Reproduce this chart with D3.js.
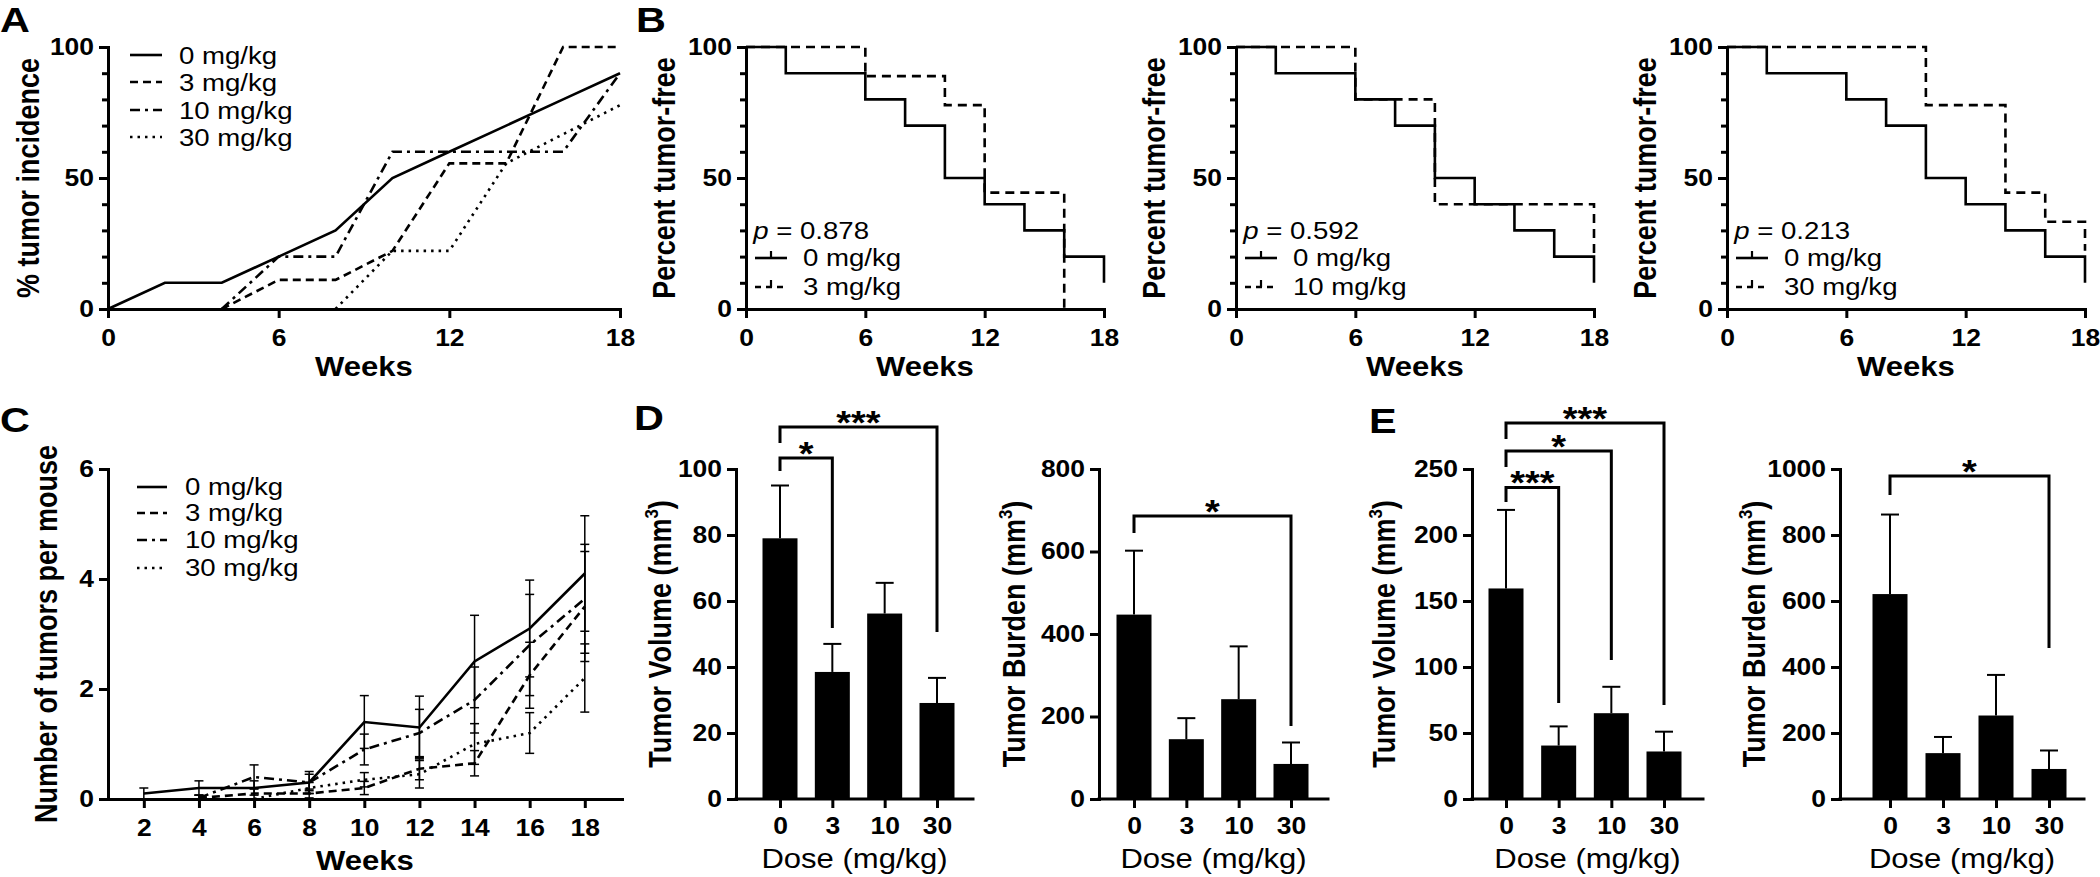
<!DOCTYPE html>
<html><head><meta charset="utf-8">
<script src="https://cdn.jsdelivr.net/npm/d3@7"></script>
<style>
body{margin:0;background:#fff;}
svg{display:block;font-family:"Liberation Sans",Arial,Helvetica,sans-serif;}
</style></head><body>
<svg id="fig" width="2100" height="877"></svg>
<script>
// ===================== DATA =====================
const doseLabels = ["0 mg/kg","3 mg/kg","10 mg/kg","30 mg/kg"];
const doseCats = ["0","3","10","30"];

// A: % tumor incidence
const incWeeks = [0,2,4,6,8,10,12,14,16,18];
const inc0  = [0,10,10,20,30,50,60,70,80,90];
const inc3  = [null,null,0,11.1,11.1,22.2,55.6,55.6,100,100];
const inc10 = [null,null,0,20,20,60,60,60,60,90];
const inc30 = [null,null,null,null,0,22.2,22.2,55.6,66.7,77.8];
const weekTicks = [0,6,12,18];
const pctTicks = [0,50,100];
const pctMinor = [10,20,30,40,60,70,80,90];

// B: Kaplan-Meier (week of step, % tumor-free from that week)
const km0Times = [0,2,6,8,10,12,14,16,18];
const km0Vals  = [100,90,80,70,50,40,30,20,10];
const km3Times = [0,6,10,12,16];
const km3Vals  = [100,88.9,77.8,44.4,0];
const km10Times = [0,6,10,18];
const km10Vals  = [100,80,40,20];
const km30Times = [0,10,14,16,18];
const km30Vals  = [100,77.8,44.4,33.3,22.2];
const pValues = ["0.878","0.592","0.213"];

// C: tumors per mouse (mean, SEM)
const multWeeks = [2,4,6,8,10,12,14,16,18];
const mult0  = [0.1,0.2,0.2,0.3,1.4,1.3,2.5,3.1,4.1];
const sem0   = [0.1,0.13,0.13,0.2,0.48,0.57,0.84,0.88,1.05];
const mult3  = [null,0.02,0.1,0.1,0.2,0.55,0.65,2.25,3.5];
const sem3   = [null,0.05,0.1,0.08,0.12,0.2,0.23,0.6,1.0];
const mult10 = [null,0.02,0.4,0.3,0.9,1.2,1.8,2.8,3.64];
const sem10  = [null,0.05,0.22,0.15,0.28,0.43,0.6,0.92,0.99];
const mult30 = [null,null,0,0.2,0.35,0.45,1.0,1.2,2.2];
const sem30  = [null,null,0,0.1,0.13,0.25,0.37,0.37,0.62];
const multTicks = [0,2,4,6];
const multWeekTicks = [2,4,6,8,10,12,14,16,18];

// D, E: bars (mean, SEM)
const volD = [79,38.5,56.2,29.1],   volDsem = [16,8.5,9.3,7.6];
const burD = [447,145,242,85],      burDsem = [155,51,128,52];
const volE = [159.5,40.5,65,36],    volEsem = [59.5,14.5,20,15];
const burE = [621,139,253,91],      burEsem = [241,49,123,56];
const volDTicks = [0,20,40,60,80,100];
const burDTicks = [0,200,400,600,800];
const volETicks = [0,50,100,150,200,250];
const burETicks = [0,200,400,600,800,1000];
// significance brackets: [from, to, bracket level, left-leg end, right-leg end, label]
const sigD1 = [["0","3",103.3,99.4,51.8,"*"],["0","30",112.7,107.9,50.6,"***"]];
const sigD2 = [["0","30",686,645,177,"*"]];
const sigE1 = [["0","3",236,225,72.7,"***"],["0","10",263.6,251.5,105.3,"*"],["0","30",284.8,272.7,71.2,"***"]];
const sigE2 = [["0","30",979,921,457.6,"*"]];

// ===================== STYLE =====================
const FS_TICK = 23, FS_TITLE = 27, FS_LEG = 24, FS_LETTER = 36, FS_STAR = 33;
const STRETCH = 1.15;
const DASH = {"0 mg/kg":null,"3 mg/kg":"8,5","10 mg/kg":"10,5,3,5","30 mg/kg":"2.5,5"};
const fmt = d3.format("d");

const svg = d3.select("#fig");

function styleAxis(g){
  g.attr("font-family",null).attr("font-size",FS_TICK).attr("font-weight","bold");
  g.select(".domain").attr("stroke","#000").attr("stroke-width",3).attr("stroke-linecap","square");
  g.selectAll(".tick line").attr("stroke","#000").attr("stroke-width",3);
  g.selectAll(".tick text").attr("fill","#000");
  return g;
}
function yAxis(x0, y, ticks, minor){
  if(minor){
    const m = svg.append("g").attr("transform",`translate(${x0},0)`)
      .call(d3.axisLeft(y).tickValues(minor).tickSize(6).tickFormat(""));
    m.select(".domain").remove();
    m.selectAll("line").attr("stroke","#000").attr("stroke-width",3);
  }
  return styleAxis(svg.append("g").attr("transform",`translate(${x0},0)`)
    .call(d3.axisLeft(y).tickValues(ticks).tickFormat(fmt).tickSize(9).tickSizeOuter(0).tickPadding(5)));
}
function xAxis(y0, x, ticks, pad, f){
  const ax = d3.axisBottom(x).tickValues(ticks).tickSize(9).tickSizeOuter(0).tickPadding(pad);
  if(f) ax.tickFormat(f);
  return styleAxis(svg.append("g").attr("transform",`translate(0,${y0})`).call(ax));
}
function yTitle(bx, cy, text, sup){
  const t = svg.append("text").attr("transform",`translate(${bx},${cy}) scale(${STRETCH},1) rotate(-90)`)
    .attr("text-anchor","middle").attr("font-size",FS_TITLE).attr("font-weight","bold").attr("class","rot");
  if(sup){
    t.append("tspan").text(text);
    t.append("tspan").attr("font-size",FS_TITLE*0.62).attr("dy",-FS_TITLE*0.42).text("3");
    t.append("tspan").attr("dy",FS_TITLE*0.42).text(")");
  } else t.text(text);
}
function xTitle(cx, by, text, weight, fs){
  svg.append("text").attr("x",cx).attr("y",by).attr("text-anchor","middle")
    .attr("font-size",fs||FS_TITLE).attr("font-weight",weight||"bold").text(text);
}
function letter(x, y, t){
  svg.append("text").attr("x",x).attr("y",y).attr("font-size",FS_LETTER).attr("font-weight","bold").text(t);
}

// ===================== A =====================
(function(){
  const L=108,R=620,T=47,B=309;
  const x = d3.scaleLinear().domain([0,18]).range([L,R]);
  const y = d3.scaleLinear().domain([0,100]).range([B,T]);
  const series = [inc0,inc3,inc10,inc30];
  const line = d3.line().defined(d=>d[1]!=null).x(d=>x(d[0])).y(d=>y(d[1]));
  series.forEach((s,i)=>{
    svg.append("path").attr("d",line(incWeeks.map((w,j)=>[w,s[j]])))
      .attr("fill","none").attr("stroke","#000").attr("stroke-width",2.6)
      .attr("stroke-dasharray",DASH[doseLabels[i]]);
  });
  yAxis(L,y,pctTicks,pctMinor);
  xAxis(B,x,weekTicks,12);
  yTitle(39,(T+B)/2,"% tumor incidence");
  xTitle((L+R)/2,B+67,"Weeks");
  const rows=[55,82,110,137];
  doseLabels.forEach((d,i)=>{
    svg.append("line").attr("x1",130).attr("x2",162).attr("y1",rows[i]).attr("y2",rows[i])
      .attr("stroke","#000").attr("stroke-width",2.6).attr("stroke-dasharray",DASH[d]);
    svg.append("text").attr("x",179).attr("y",rows[i]+9).attr("font-size",FS_LEG).text(d);
  });
  letter(0,32,"A");
})();

// ===================== B =====================
const kmTreat = [[km3Times,km3Vals,doseLabels[1]],[km10Times,km10Vals,doseLabels[2]],[km30Times,km30Vals,doseLabels[3]]];
const kmLefts = [746,1236,1727];
kmTreat.forEach((tr,k)=>{
  const L=kmLefts[k],R=L+358,T=47,B=309;
  const x = d3.scaleLinear().domain([0,18]).range([L,R]);
  const y = d3.scaleLinear().domain([0,100]).range([B,T]);
  const line = d3.line().curve(d3.curveStepAfter).x(d=>x(d[0])).y(d=>y(d[1]));
  svg.append("path").attr("d",line(km0Times.map((t,j)=>[t,km0Vals[j]])))
    .attr("fill","none").attr("stroke","#000").attr("stroke-width",2.6);
  svg.append("path").attr("d",line(tr[0].map((t,j)=>[t,tr[1][j]])))
    .attr("fill","none").attr("stroke","#000").attr("stroke-width",2.6).attr("stroke-dasharray","9,6");
  yAxis(L,y,pctTicks,pctMinor);
  xAxis(B,x,weekTicks,12);
  yTitle(L-71,(T+B)/2,"Percent tumor-free");
  xTitle((L+R)/2,B+67,"Weeks");
  // legend
  const pt = svg.append("text").attr("x",L+7).attr("y",239).attr("font-size",FS_LEG);
  pt.append("tspan").attr("font-style","italic").text("p");
  pt.append("tspan").text(" = "+pValues[k]);
  [[doseLabels[0],null,258],[tr[2],"6,5",287]].forEach(r=>{
    svg.append("line").attr("x1",L+9).attr("x2",L+41).attr("y1",r[2]).attr("y2",r[2])
      .attr("stroke","#000").attr("stroke-width",2.6).attr("stroke-dasharray",r[1]);
    svg.append("line").attr("x1",L+25).attr("x2",L+25).attr("y1",r[2]).attr("y2",r[2]-7)
      .attr("stroke","#000").attr("stroke-width",2.2);
    svg.append("text").attr("x",L+57).attr("y",r[2]+8).attr("font-size",FS_LEG).text(r[0]);
  });
});
letter(636,32,"B");

// ===================== C =====================
(function(){
  const L=108,R=622,T=469,B=799;
  const x = d3.scaleLinear().domain([0.7,19.35]).range([L,R]);
  const y = d3.scaleLinear().domain([0,6]).range([B,T]);
  const series=[[mult0,sem0],[mult3,sem3],[mult10,sem10],[mult30,sem30]];
  const line = d3.line().defined(d=>d[1]!=null).x(d=>x(d[0])).y(d=>y(d[1]));
  series.forEach((s,i)=>{
    svg.append("path").attr("d",line(multWeeks.map((w,j)=>[w,s[0][j]])))
      .attr("fill","none").attr("stroke","#000").attr("stroke-width",2.6)
      .attr("stroke-dasharray",DASH[doseLabels[i]]);
    multWeeks.forEach((w,j)=>{
      const m=s[0][j], e=s[1][j];
      if(m==null||!e) return;
      const cx=x(w), y1=y(Math.max(0,m-e)), y2=y(m+e);
      svg.append("line").attr("x1",cx).attr("x2",cx).attr("y1",y1).attr("y2",y2).attr("stroke","#000").attr("stroke-width",1.5);
      [y1,y2].forEach(yy=>svg.append("line").attr("x1",cx-4.5).attr("x2",cx+4.5).attr("y1",yy).attr("y2",yy).attr("stroke","#000").attr("stroke-width",1.5));
    });
  });
  yAxis(L,y,multTicks,null);
  xAxis(B,x,multWeekTicks,12);
  yTitle(57,(T+B)/2,"Number of tumors per mouse");
  xTitle((L+R)/2,B+71,"Weeks");
  const rows=[487,513,540,568];
  doseLabels.forEach((d,i)=>{
    svg.append("line").attr("x1",137).attr("x2",167).attr("y1",rows[i]).attr("y2",rows[i])
      .attr("stroke","#000").attr("stroke-width",2.6).attr("stroke-dasharray",DASH[d]);
    svg.append("text").attr("x",185).attr("y",rows[i]+8).attr("font-size",FS_LEG).text(d);
  });
  letter(0,432,"C");
})();

// ===================== D, E bars =====================
function barPanel(L,R,first,last,vals,sems,maxV,ticks,titleOff,sigs,titleWord){
  const T=469,B=799;
  const x = d3.scalePoint().domain(doseCats).range([L+first,L+last]);
  const y = d3.scaleLinear().domain([0,maxV]).range([B,T]);
  const bw=35, cw=18;
  doseCats.forEach((c,i)=>{
    const cx=x(c);
    svg.append("rect").attr("x",cx-bw/2).attr("y",y(vals[i])).attr("width",bw).attr("height",y(0)-y(vals[i])).attr("fill","#000");
    svg.append("line").attr("x1",cx).attr("x2",cx).attr("y1",y(vals[i])).attr("y2",y(vals[i]+sems[i])).attr("stroke","#000").attr("stroke-width",2);
    svg.append("line").attr("x1",cx-cw/2).attr("x2",cx+cw/2).attr("y1",y(vals[i]+sems[i])).attr("y2",y(vals[i]+sems[i])).attr("stroke","#000").attr("stroke-width",2);
  });
  yAxis(L,y,ticks,null);
  const xa = xAxis(B,x,doseCats,10);
  xa.select(".domain").remove();
  svg.append("line").attr("x1",L).attr("x2",R).attr("y1",B).attr("y2",B).attr("stroke","#000").attr("stroke-width",3).attr("stroke-linecap","square");
  yTitle(L-titleOff,(T+B)/2,"Tumor "+titleWord+" (mm",true);
  xTitle((L+R)/2,B+69,"Dose (mg/kg)","normal",27);
  sigs.forEach(s=>{
    const x0=x(s[0]),x1=x(s[1]);
    svg.append("path").attr("d",`M${x0},${y(s[3])}V${y(s[2])}H${x1}V${y(s[4])}`)
      .attr("fill","none").attr("stroke","#000").attr("stroke-width",3);
    svg.append("text").attr("x",(x0+x1)/2).attr("y",y(s[2])+7).attr("text-anchor","middle")
      .attr("font-size",FS_STAR).attr("font-weight","bold").text(s[5]);
  });
}
barPanel(736,973,44,201,volD,volDsem,100,volDTicks,65,sigD1,"Volume");
barPanel(1099,1328,35,192,burD,burDsem,800,burDTicks,74,sigD2,"Burden");
barPanel(1472,1703,34,192,volE,volEsem,250,volETicks,77,sigE1,"Volume");
barPanel(1840,2084,50,209,burE,burEsem,1000,burETicks,75,sigE2,"Burden");
letter(634,430,"D");
letter(1369,433,"E");

// horizontal widening of upright text to match the figure's wide lettering
svg.selectAll("text").each(function(){
  if(this.classList.contains("rot")) return;
  const a = getComputedStyle(this).textAnchor;
  this.style.transformBox="fill-box";
  this.style.transformOrigin = a==="end" ? "right center" : (a==="middle" ? "center" : "left center");
  this.style.transform = `scaleX(${STRETCH})`;
});
</script>
</body></html>
